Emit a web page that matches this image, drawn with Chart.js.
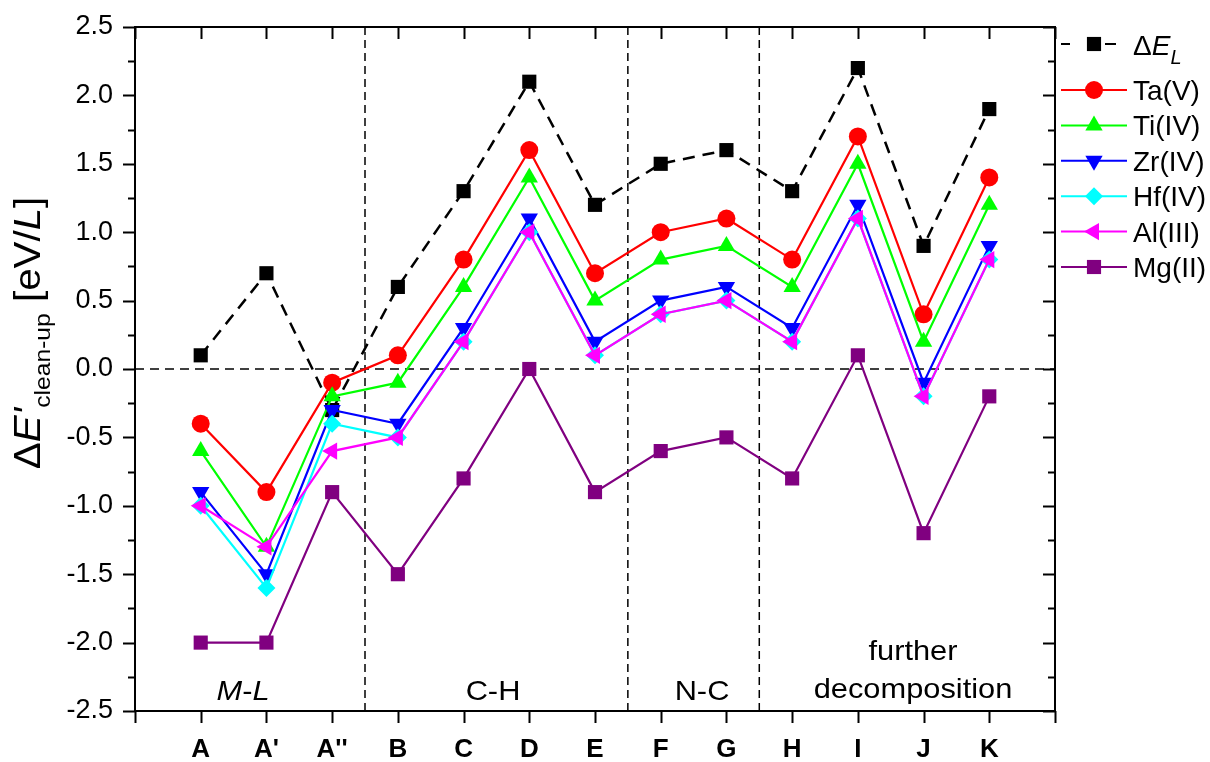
<!DOCTYPE html>
<html lang="en">
<head>
<meta charset="UTF-8">
<title>Delta E clean-up</title>
<script src="https://cdn.jsdelivr.net/npm/chart.js"></script>
<style>
    html, body { margin: 0; padding: 0; background: #fff; }
    #caixa { width: 1210px; height: 762px; }
</style>
</head>
<body>
<div id="caixa"><canvas id="grafico"></canvas></div>
<script>
    // categorias do eixo x (A = 0 ... K = 12)
    const categorias = ["A", "A'", "A''", "B", "C", "D", "E", "F", "G", "H", "I", "J", "K"];

    // series
    const deltaEL = [0.1, 0.7, -0.3, 0.6, 1.3, 2.1, 1.2, 1.5, 1.6, 1.3, 2.2, 0.9, 1.9];
    const taV = [-0.4, -0.9, -0.1, 0.1, 0.8, 1.6, 0.7, 1.0, 1.1, 0.8, 1.7, 0.4, 1.4];
    const tiIV = [-0.6, -1.3, -0.2, -0.1, 0.6, 1.4, 0.5, 0.8, 0.9, 0.6, 1.5, 0.2, 1.2];
    const zrIV = [-0.9, -1.5, -0.3, -0.4, 0.3, 1.1, 0.2, 0.5, 0.6, 0.3, 1.2, -0.1, 0.9];
    const hfIV = [-1.0, -1.6, -0.4, -0.5, 0.2, 1.0, 0.1, 0.4, 0.5, 0.2, 1.1, -0.2, 0.8];
    const alIII = [-1.0, -1.3, -0.6, -0.5, 0.2, 1.0, 0.1, 0.4, 0.5, 0.2, 1.1, -0.2, 0.8];
    const mgII = [-2.0, -2.0, -0.9, -1.5, -0.8, 0.0, -0.9, -0.6, -0.5, -0.8, 0.1, -1.2, -0.2];

    // divisoes das regioes (entre categorias)
    const divisoes = [2.5, 6.5, 8.5];

    const FONTE = "Arial, 'Liberation Sans', sans-serif";

    function pontos(valores) {
        return valores.map((v, i) => ({ x: i, y: v }));
    }

    const series = [
        { nome: 'dEL', valores: deltaEL, cor: '#000000', estilo: 'rect', raio: 10, rot: 0, tracejado: [12, 8], largura: 2.5 },
        { nome: 'Ta(V)', valores: taV, cor: '#ff0000', estilo: 'circle', raio: 9, rot: 0 },
        { nome: 'Ti(IV)', valores: tiIV, cor: '#00ff00', estilo: 'triangle', raio: 10, rot: 0 },
        { nome: 'Zr(IV)', valores: zrIV, cor: '#0000ff', estilo: 'triangle', raio: 10, rot: 180 },
        { nome: 'Hf(IV)', valores: hfIV, cor: '#00ffff', estilo: 'rectRot', raio: 9, rot: 0 },
        { nome: 'Al(III)', valores: alIII, cor: '#ff00ff', estilo: 'triangle', raio: 10, rot: -90 },
        { nome: 'Mg(II)', valores: mgII, cor: '#800080', estilo: 'rect', raio: 10, rot: 0 }
    ];

    const datasets = series.map((s, i) => ({
        label: s.nome,
        data: pontos(s.valores),
        borderColor: s.cor,
        backgroundColor: s.cor,
        borderWidth: s.largura || 2.2,
        borderDash: s.tracejado || [],
        pointStyle: s.estilo,
        pointRadius: s.raio,
        pointRotation: s.rot,
        pointBorderWidth: 0,
        pointBackgroundColor: s.cor,
        tension: 0,
        order: series.length - 1 - i
    }));

    // texto com partes (italico, subscrito) -- escala horizontal opcional
    function textoRico(ctx, partes, x, y, alinhamento, esticar) {
        esticar = esticar || 1;
        let total = 0;
        partes.forEach(p => {
            ctx.font = (p.italic ? 'italic ' : '') + (p.bold ? 'bold ' : '') + p.size + 'px ' + FONTE;
            p.w = ctx.measureText(p.t).width;
            total += p.w;
        });
        ctx.save();
        ctx.translate(x, y);
        ctx.scale(esticar, 1);
        let cx = alinhamento === 'center' ? -total / 2 : 0;
        ctx.textAlign = 'left';
        ctx.textBaseline = 'alphabetic';
        partes.forEach(p => {
            ctx.font = (p.italic ? 'italic ' : '') + (p.bold ? 'bold ' : '') + p.size + 'px ' + FONTE;
            ctx.fillText(p.t, cx, p.dy || 0);
            cx += p.w;
        });
        ctx.restore();
    }

    function marcador(ctx, estilo, r, rot, x, y, cor) {
        ctx.save();
        ctx.fillStyle = cor;
        ctx.beginPath();
        const rad = rot * Math.PI / 180;
        if (estilo === 'circle') {
            ctx.arc(x, y, r, 0, Math.PI * 2);
        } else if (estilo === 'rect') {
            const s = Math.SQRT1_2 * r;
            ctx.rect(x - s, y - s, 2 * s, 2 * s);
        } else if (estilo === 'rectRot') {
            ctx.moveTo(x - r, y);
            ctx.lineTo(x, y - r);
            ctx.lineTo(x + r, y);
            ctx.lineTo(x, y + r);
            ctx.closePath();
        } else if (estilo === 'triangle') {
            let a = rad;
            ctx.moveTo(x + Math.sin(a) * r, y - Math.cos(a) * r);
            a += 2 * Math.PI / 3;
            ctx.lineTo(x + Math.sin(a) * r, y - Math.cos(a) * r);
            a += 2 * Math.PI / 3;
            ctx.lineTo(x + Math.sin(a) * r, y - Math.cos(a) * r);
            ctx.closePath();
        }
        ctx.fill();
        ctx.restore();
    }

    const moldura = {
        id: 'moldura',
        beforeDatasetsDraw(chart) {
            const { ctx, chartArea: a, scales } = chart;
            ctx.save();
            ctx.strokeStyle = '#000';
            ctx.lineWidth = 1.5;
            ctx.setLineDash([9, 6]);
            const y0 = scales.y.getPixelForValue(0);
            ctx.beginPath();
            ctx.moveTo(a.left, y0);
            ctx.lineTo(a.right, y0);
            ctx.stroke();
            ctx.setLineDash([8, 5]);
            divisoes.forEach(d => {
                const px = scales.x.getPixelForValue(d);
                ctx.beginPath();
                ctx.moveTo(px, a.top);
                ctx.lineTo(px, a.bottom);
                ctx.stroke();
            });
            ctx.restore();
        },
        afterDatasetsDraw(chart) {
            const { ctx, chartArea: a, scales } = chart;
            ctx.save();
            ctx.strokeStyle = '#000';
            ctx.fillStyle = '#000';
            ctx.lineWidth = 2;
            ctx.setLineDash([]);
            ctx.strokeRect(a.left, a.top, a.right - a.left, a.bottom - a.top);

            // ticks do eixo y (maiores a cada 0.5, menores a cada 0.25)
            ctx.beginPath();
            for (let k = -10; k <= 10; k++) {
                const v = k * 0.25;
                const py = Math.round(scales.y.getPixelForValue(v)) + 0.5;
                const len = (k % 2 === 0) ? 12 : 7;
                ctx.moveTo(a.left - len, py);
                ctx.lineTo(a.left, py);
                ctx.moveTo(a.right - len, py);
                ctx.lineTo(a.right, py);
            }
            // ticks do eixo x
            for (let i = -1; i <= 13; i++) {
                const px = Math.round(scales.x.getPixelForValue(i)) + 0.5;
                ctx.moveTo(px, a.bottom);
                ctx.lineTo(px, a.bottom + 12);
                ctx.moveTo(px, a.top);
                ctx.lineTo(px, a.top + 12);
            }
            ctx.stroke();

            // nomes das regioes
            textoRico(ctx, [{ t: 'M', size: 28, italic: true }, { t: '-', size: 28 }, { t: 'L', size: 28, italic: true }], 243, 700, 'center', 1.1);
            textoRico(ctx, [{ t: 'C-H', size: 28 }], 493, 700, 'center', 1.1);
            textoRico(ctx, [{ t: 'N-C', size: 28 }], 702, 700, 'center', 1.1);
            textoRico(ctx, [{ t: 'further', size: 28 }], 913, 660, 'center', 1.1);
            textoRico(ctx, [{ t: 'decomposition', size: 28 }], 913, 698, 'center', 1.1);

            // titulo do eixo y
            ctx.save();
            ctx.translate(40, 333);
            ctx.rotate(-Math.PI / 2);
            textoRico(ctx, [
                { t: '\u0394', size: 36 },
                { t: "E'", size: 36, italic: true },
                { t: 'clean-up', size: 22, dy: 10 },
                { t: ' [eV/', size: 36 },
                { t: 'L', size: 36, italic: true },
                { t: ']', size: 36 }
            ], 0, 0, 'center', 1.12);
            ctx.restore();

            // legenda
            const lx0 = 1061, lx1 = 1127, lm = 1094, lt = 1133;
            series.forEach((s, i) => {
                const y = i === 0 ? 44 : 90 + (i - 1) * 35.4;
                ctx.strokeStyle = s.cor;
                ctx.lineWidth = 2;
                ctx.beginPath();
                if (i === 0) {
                    ctx.moveTo(lx0, y); ctx.lineTo(lx0 + 9, y);
                    ctx.moveTo(lm + 11, y); ctx.lineTo(lm + 22, y);
                } else {
                    ctx.moveTo(lx0, y); ctx.lineTo(lx1, y);
                }
                ctx.stroke();
                marcador(ctx, s.estilo, s.raio, s.rot, lm, y, s.cor);
                ctx.fillStyle = '#000';
                if (i === 0) {
                    textoRico(ctx, [
                        { t: '\u0394', size: 28 },
                        { t: 'E', size: 28, italic: true },
                        { t: 'L', size: 20, italic: true, dy: 9 }
                    ], lt, y + 11, 'left');
                } else {
                    textoRico(ctx, [{ t: s.nome, size: 28 }], lt, y + 10, 'left');
                }
            });
            ctx.restore();
        }
    };

    new Chart(document.getElementById('grafico'), {
        type: 'line',
        data: { datasets: datasets },
        options: {
            responsive: true,
            maintainAspectRatio: false,
            animation: false,
            layout: { padding: { top: 27, right: 155, bottom: 0, left: 0 } },
            plugins: { legend: { display: false }, tooltip: { enabled: false } },
            scales: {
                x: {
                    type: 'linear',
                    min: -1,
                    max: 13,
                    afterFit(s) { s.height = 51; s.paddingLeft = 0; s.paddingRight = 0; },
                    grid: { display: false, drawTicks: false },
                    border: { display: false },
                    ticks: {
                        stepSize: 1,
                        autoSkip: false,
                        maxRotation: 0,
                        minRotation: 0,
                        padding: 23,
                        color: '#000',
                        font: { family: FONTE, size: 26, weight: 'bold' },
                        callback: (v) => categorias[v] !== undefined ? categorias[v] : ''
                    }
                },
                y: {
                    min: -2.5,
                    max: 2.5,
                    afterFit(s) { s.width = 135; s.paddingTop = 0; s.paddingBottom = 0; },
                    grid: { display: false, drawTicks: false },
                    border: { display: false },
                    ticks: {
                        stepSize: 0.5,
                        padding: 22,
                        color: '#000',
                        font: { family: FONTE, size: 27 },
                        callback: (v) => v.toFixed(1)
                    }
                }
            }
        },
        plugins: [moldura]
    });
</script>
</body>
</html>
